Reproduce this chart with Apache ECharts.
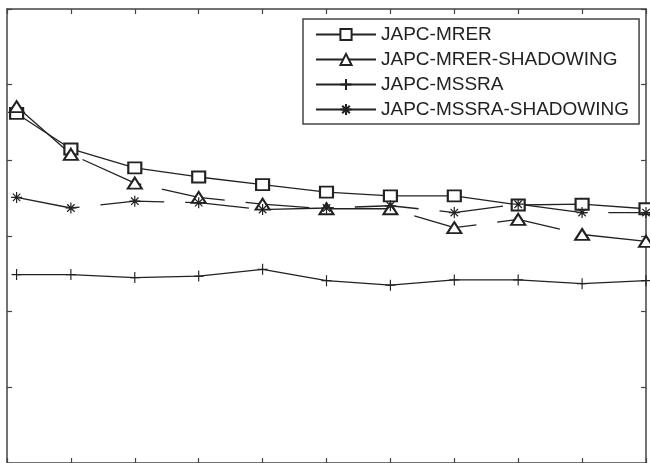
<!DOCTYPE html>
<html>
<head>
<meta charset="utf-8">
<script src="https://cdn.jsdelivr.net/npm/echarts@6/dist/echarts.min.js"></script>
<style>html,body{margin:0;padding:0;background:#fff;}#c{width:650px;height:463px;}</style>
</head>
<body>
<div id="c"></div>
<script>
// x positions of the samples
var xValues = [1.5, 10, 20, 30, 40, 50, 60, 70, 80, 90, 100];
// series values
var mrer          = [4.62, 4.15, 3.90, 3.78, 3.68, 3.58, 3.53, 3.53, 3.41, 3.42, 3.36];
var mrerShadowing = [4.71, 4.08, 3.70, 3.51, 3.42, 3.36, 3.36, 3.11, 3.22, 3.02, 2.93];
var mssra         = [2.49, 2.49, 2.45, 2.47, 2.56, 2.41, 2.35, 2.42, 2.42, 2.37, 2.41];
var mssraShadowing= [3.51, 3.37, 3.46, 3.44, 3.35, 3.37, 3.40, 3.31, 3.42, 3.31, 3.31];
var seriesNames = ['JAPC-MRER', 'JAPC-MRER-SHADOWING', 'JAPC-MSSRA', 'JAPC-MSSRA-SHADOWING'];

function pairs(ys){ return ys.map(function(y,i){ return [xValues[i], y]; }); }

var INK = '#222';
var axisCommon = {
  type: 'value', min: 0, max: 100, interval: 10,
  axisLabel: {show: false}, splitLine: {show: false},
  axisLine: {show: true, onZero: false, lineStyle: {color: '#444', width: 1.5}},
  axisTick: {show: true, inside: true, length: 5, lineStyle: {color: '#444', width: 1.2}}
};
var yCommon = {
  type: 'value', min: 0, max: 6, interval: 1,
  axisLabel: {show: false}, splitLine: {show: false},
  axisLine: {show: true, onZero: false, lineStyle: {color: '#444', width: 1.5}},
  axisTick: {show: true, inside: true, length: 5, lineStyle: {color: '#444', width: 1.2}}
};

function mk(name, data, symbol, size, dashed){
  return {
    name: name, type: 'line', data: pairs(data),
    symbol: symbol, symbolSize: size, showAllSymbol: true,
    xAxisIndex: 0, yAxisIndex: 0, animation: false,
    lineStyle: {color: INK, width: 1.3, type: dashed ? [64, 21] : 'solid'},
    itemStyle: {color: INK, borderColor: INK, borderWidth: 1.2}
  };
}

var chart = echarts.init(document.getElementById('c'), null, {renderer: 'canvas'});
chart.setOption({
  backgroundColor: '#fff',
  animation: false,
  grid: {left: 7, right: 4, top: 9, bottom: -1, containLabel: false},
  xAxis: [
    Object.assign({position: 'bottom'}, axisCommon),
    Object.assign({position: 'top'}, axisCommon)
  ],
  yAxis: [
    Object.assign({position: 'left'}, yCommon),
    Object.assign({position: 'right'}, yCommon)
  ],
  legend: {
    data: seriesNames,
    orient: 'vertical',
    left: 303, top: 19,
    padding: [6, 10, 5, 12],
    itemWidth: 60, itemHeight: 14, itemGap: 6,
    borderColor: '#444', borderWidth: 1.5,
    backgroundColor: '#fff',
    selectedMode: false,
    lineStyle: {type: 'solid'},
    textStyle: {fontFamily: 'Liberation Sans, Arial, sans-serif', fontSize: 19, color: '#222', lineHeight: 19}
  },
  series: [
    mk(seriesNames[0], mrer, 'emptyRect', [13, 11], false),
    mk(seriesNames[1], mrerShadowing, 'emptyTriangle', [14, 11], true),
    mk(seriesNames[2], mssra, 'path://M5,0L5,10M0,5L10,5', [10, 11], false),
    mk(seriesNames[3], mssraShadowing, 'path://M5,0L5,10M0,5L10,5M1.6,1.6L8.4,8.4M8.4,1.6L1.6,8.4', [11, 11], true)
  ]
});
</script>
</body>
</html>
